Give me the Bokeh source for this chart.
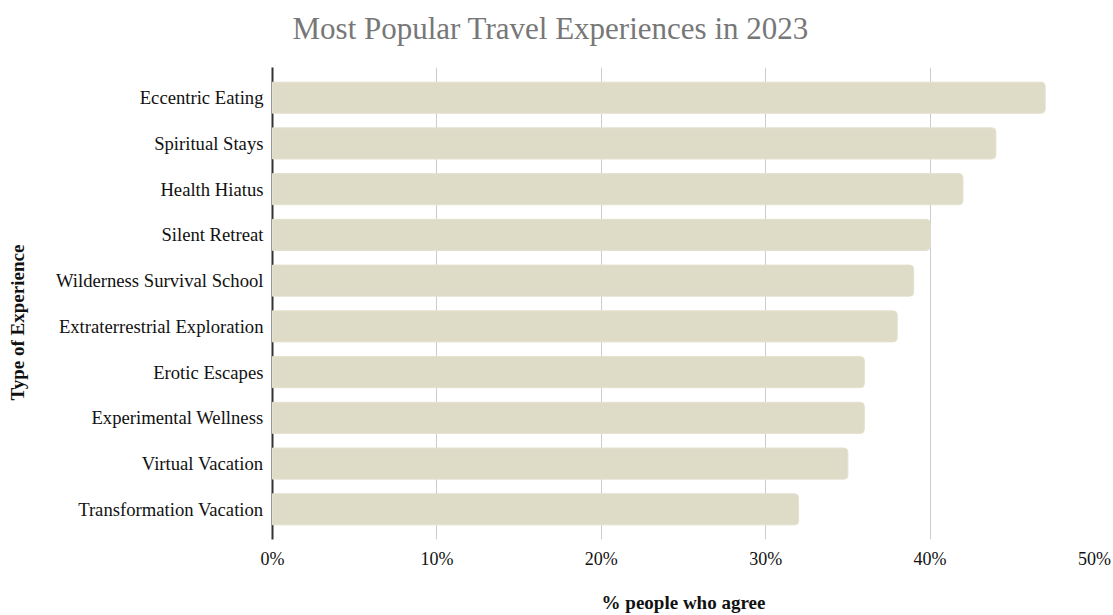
from bokeh.plotting import figure
from bokeh.models import (ColumnDataSource, FactorRange, Range1d, PrintfTickFormatter,
                          FixedTicker, Title)
from bokeh.embed import file_html
from bokeh.resources import INLINE

experiences = [
    "Eccentric Eating",
    "Spiritual Stays",
    "Health Hiatus",
    "Silent Retreat",
    "Wilderness Survival School",
    "Extraterrestrial Exploration",
    "Erotic Escapes",
    "Experimental Wellness",
    "Virtual Vacation",
    "Transformation Vacation",
]
percent_agree = [47, 44, 42, 40, 39, 38, 36, 36, 35, 32]
x_ticks = [0, 10, 20, 30, 40, 50]

FONT = "Liberation Serif"

src = ColumnDataSource(dict(cat=experiences, val=percent_agree))

p = figure(
    width=1113, height=615,
    y_range=FactorRange(factors=list(reversed(experiences)), range_padding=0.16, range_padding_units="absolute"),
    x_range=Range1d(0, 50),
    output_backend="svg", toolbar_location=None,
    min_border_left=272, min_border_right=19, min_border_top=67, min_border_bottom=74,
)
p.outline_line_color = None
p.background_fill_color = "white"

p.hbar(y="cat", right="val", left=0, height=0.68, source=src,
       fill_color="#dedbc7", line_color="#e4e1d0", line_width=1,
       border_radius=(0, 4, 4, 0), level="overlay")

# x axis
p.xaxis.ticker = FixedTicker(ticks=x_ticks)
p.xaxis.formatter = PrintfTickFormatter(format="%d%%")
p.xaxis.axis_line_color = None
p.xaxis.major_tick_line_color = None
p.xaxis.minor_tick_line_color = None
p.xaxis.major_tick_out = 0
p.xaxis.major_tick_in = 0
p.xaxis.minor_tick_out = 0
p.xaxis.major_label_text_font = FONT
p.xaxis.major_label_text_font_size = "18px"
p.xaxis.major_label_text_color = "#111111"
p.xaxis.major_label_standoff = 9
p.xaxis.axis_label = "% people who agree"
p.xaxis.axis_label_text_font = FONT
p.xaxis.axis_label_text_font_size = "19px"
p.xaxis.axis_label_text_font_style = "bold"
p.xaxis.axis_label_text_color = "#111111"
p.xaxis.axis_label_standoff = 20

# y axis
p.yaxis.axis_line_color = "#333333"
p.yaxis.axis_line_width = 2
p.yaxis.major_tick_line_color = None
p.yaxis.minor_tick_line_color = None
p.yaxis.major_tick_out = 0
p.yaxis.major_tick_in = 0
p.yaxis.minor_tick_out = 0
p.yaxis.major_label_text_font = FONT
p.yaxis.major_label_text_font_size = "14pt"
p.yaxis.major_label_text_color = "#111111"
p.yaxis.major_label_standoff = 9

p.title = Title(text="Most Popular Travel Experiences in 2023", text_font=FONT,
                text_font_size="31px", text_font_style="normal", text_color="#777777",
                align="left", offset=20, vertical_align="bottom", standoff=8,
                padding=dict(left=0, right=0, top=0, bottom=18))

ytitle = Title(text="Type of Experience", align="left", offset=139, vertical_align="bottom",
               standoff=0, text_font=FONT, text_font_size="19px", text_font_style="bold",
               text_color="#111111", padding=dict(left=0, right=0, top=0, bottom=25))
p.add_layout(ytitle, "left")

p.xgrid.grid_line_color = "#cccccc"
p.xgrid.grid_line_width = 1
p.ygrid.grid_line_color = None

open("out.html", "w").write(file_html(p, INLINE))
